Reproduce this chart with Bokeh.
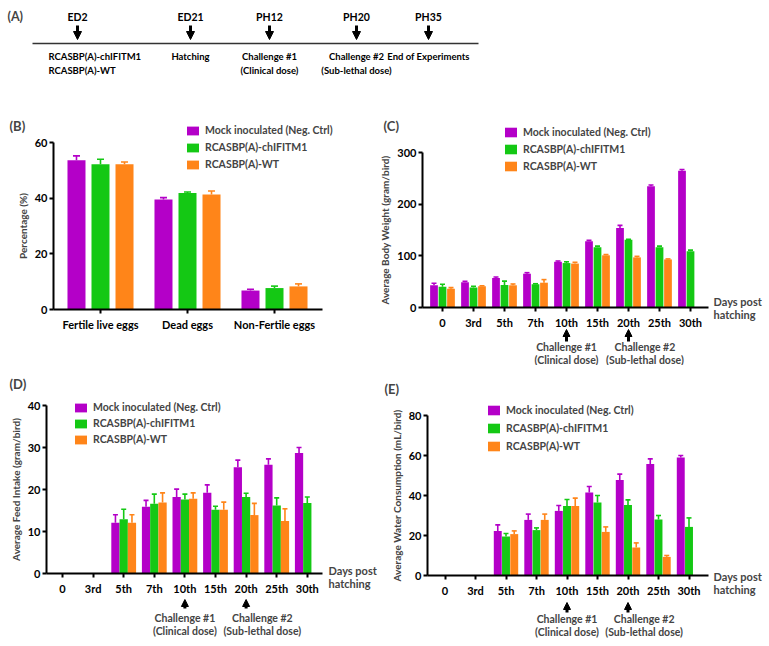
import numpy as np
from bokeh.plotting import figure
from bokeh.layouts import column, row
from bokeh.models import (Range1d, Legend, LegendItem, Label, Arrow, LinearAxis,
                          NormalHead, FixedTicker, ColumnDataSource)
from bokeh.transform import dodge
from bokeh.core.properties import value
from bokeh.embed import file_html
from bokeh.resources import INLINE

FONT = "Lato"
nan = np.nan

# ---------------- data ----------------
series_names = ["Mock inoculated (Neg. Ctrl)", "RCASBP(A)-chIFITM1", "RCASBP(A)-WT"]
colors = ["#B400C8", "#14C814", "#FF8519"]

# (A) timeline
timeline_events = ["ED2", "ED21", "PH12", "PH20", "PH35"]
timeline_pos = [77, 190, 269, 356, 428]
timeline_desc = ["RCASBP(A)-chIFITM1\nRCASBP(A)-WT", "Hatching",
                 "Challenge #1\n(Clinical dose)", "Challenge #2\n(Sub-lethal dose)",
                 "End of Experiments"]

# (B) egg outcome, percentage
egg_cats = ["Fertile live eggs", "Dead eggs", "Non-Fertile eggs"]
egg_mock = [53.6, 39.5, 6.8]
egg_mock_err = [1.6, 0.7, 0.5]
egg_ifitm = [52.2, 41.9, 7.7]
egg_ifitm_err = [1.8, 0.3, 0.7]
egg_wt = [52.2, 41.3, 8.3]
egg_wt_err = [0.8, 1.3, 0.9]

days = ["0", "3rd", "5th", "7th", "10th", "15th", "20th", "25th", "30th"]

# (C) body weight
bw_mock = [43, 48.7, 57, 65.4, 88.5, 128, 154, 234.6, 264.7]
bw_mock_err = [4, 2, 2, 2, 1.5, 2, 5, 2.5, 2.5]
bw_ifitm = [40, 38.5, 43.6, 45, 86, 116.7, 131, 116.7, 109]
bw_ifitm_err = [5, 2.5, 7.5, 1, 2.5, 2, 1, 2, 2]
bw_wt = [36.5, 41, 43, 48, 85, 101, 97, 93, nan]
bw_wt_err = [2, 1, 2.5, 6, 2.5, 1.5, 2, 1, nan]

# (D) feed intake
fi_mock = [nan, nan, 12.1, 15.9, 18.2, 19.2, 25.3, 25.9, 28.7]
fi_mock_err = [nan, nan, 1.9, 1.5, 1.9, 1.9, 1.7, 1.4, 1.3]
fi_ifitm = [nan, nan, 12.9, 16.6, 17.6, 15.2, 18.2, 16.2, 16.8]
fi_ifitm_err = [nan, nan, 2.4, 2.3, 1.3, 0.8, 0.9, 1.8, 1.4]
fi_wt = [nan, nan, 12.1, 16.9, 17.8, 15.2, 13.9, 12.5, nan]
fi_wt_err = [nan, nan, 1.9, 2.3, 1.4, 1.8, 2.8, 2.9, nan]

# (E) water consumption
wc_mock = [nan, nan, 22.3, 27.8, 32.3, 41.5, 47.8, 55.7, 59.0]
wc_mock_err = [nan, nan, 3.0, 2.9, 2.7, 3.0, 2.9, 2.6, 1.0]
wc_ifitm = [nan, nan, 19.5, 22.7, 34.7, 36.5, 35.2, 28.0, 24.3]
wc_ifitm_err = [nan, nan, 1.5, 1.1, 3.3, 3.5, 2.6, 2.0, 4.5]
wc_wt = [nan, nan, 20.7, 27.8, 34.7, 21.8, 14.0, 9.3, nan]
wc_wt_err = [nan, nan, 1.6, 2.9, 4.0, 2.5, 2.3, 0.7, nan]

challenges = [("10th", "Challenge #1\n(Clinical dose)", 0.0),
              ("20th", "Challenge #2\n(Sub-lethal dose)", 0.53)]

# ---------------- (A) timeline ----------------
pA = figure(width=768, height=110, x_range=Range1d(0, 768), y_range=Range1d(110, 0),
            x_axis_type=None, y_axis_type=None, min_border=0, toolbar_location=None,
            output_backend="svg", outline_line_color=None, title=None)
pA.grid.visible = False
srcA = ColumnDataSource(dict(x=timeline_pos, ev=timeline_events))
pA.segment(x0=32, y0=43, x1=478, y1=43, line_width=1.5, line_color="#333333")
pA.text(x="x", y=16, text="ev", source=srcA, text_align="center", text_baseline="middle",
        text_font=value(FONT), text_font_style="bold", text_font_size="10.5px")
for xv in timeline_pos:
    pA.add_layout(Arrow(x_start=xv, y_start=25, x_end=xv, y_end=39, line_width=3,
                        line_color="black",
                        end=NormalHead(size=8, fill_color="black", line_color="black")))
srcA1 = ColumnDataSource(dict(x=[timeline_pos[0] - 29], desc=[timeline_desc[0]]))
srcA2 = ColumnDataSource(dict(x=timeline_pos[1:], desc=timeline_desc[1:]))
for s, al in ((srcA1, "left"), (srcA2, "center")):
    pA.text(x="x", y=50, text="desc", source=s, text_align=al, text_baseline="top",
            text_font=value(FONT), text_font_style="bold", text_font_size="9.5px",
            text_line_height=1.3)
pA.add_layout(Label(x=7, y=16, text="(A)", text_baseline="middle", text_font=FONT,
                    text_font_style="bold", text_font_size="12.5px"))


# ---------------- bar panels ----------------
def bar_panel(cats, vals, errs, *, fx, fy, W, H, c0, s, y0, y1, ymax, yticks, ax_x,
              ax_end, ylabel, off, bwid, cap, leg_xy, leg_spacing, leg_h, tag, tag_xy,
              days_xy=None, chall=None, tick_font="11px"):
    ppy = (y0 - y1) / ymax

    def dx(px):
        return (px - c0) / s

    def dy(py):
        return (y0 - py) / ppy

    p = figure(width=W, height=H, x_range=Range1d(dx(fx), dx(fx + W)),
               y_range=Range1d(dy(fy + H), dy(fy)), x_axis_type=None, y_axis_type=None,
               min_border=0, toolbar_location=None, output_backend="svg",
               outline_line_color=None, title=None)
    p.grid.visible = False

    xpos = list(range(len(cats)))
    data = dict(x=xpos)
    for k in range(3):
        v = np.array(vals[k], dtype=float)
        e = np.array(errs[k], dtype=float)
        data[f"v{k}"] = v
        data[f"t{k}"] = v + e
    src = ColumnDataSource(data)
    offsets = [-off, 0.0, off]
    renderers = []
    for k in range(3):
        xs = dodge("x", offsets[k])
        r = p.vbar(x=xs, top=f"v{k}", width=bwid, source=src, fill_color=colors[k],
                   line_color=None)
        p.segment(x0=xs, y0=f"v{k}", x1=xs, y1=f"t{k}", source=src,
                  line_color=colors[k], line_width=1.6)
        p.scatter(x=xs, y=f"t{k}", marker="dash", size=cap, source=src,
                  line_color=colors[k], line_width=1.6)
        renderers.append(r)

    xaxis = LinearAxis(fixed_location=0, bounds=(dx(ax_x), dx(ax_end)),
                       ticker=FixedTicker(ticks=xpos),
                       major_label_overrides={i: c for i, c in enumerate(cats)})
    yaxis = LinearAxis(fixed_location=dx(ax_x), bounds=(0, ymax),
                       ticker=FixedTicker(ticks=yticks), axis_label=ylabel)
    for ax in (xaxis, yaxis):
        ax.axis_line_width = 2
        ax.major_tick_line_width = 2
        ax.major_tick_in = 0
        ax.major_tick_out = 4
        ax.minor_tick_line_color = None
        ax.major_label_text_font = FONT
        ax.major_label_text_font_style = "bold"
        ax.major_label_text_font_size = tick_font
        ax.major_label_text_color = "black"
    xaxis.major_label_standoff = 4
    yaxis.major_label_standoff = 2
    yaxis.axis_label_text_font = FONT
    yaxis.axis_label_text_font_style = "bold"
    yaxis.axis_label_text_font_size = "10px"
    yaxis.axis_label_standoff = 3
    p.add_layout(xaxis, "below")
    p.add_layout(yaxis, "left")

    legend = Legend(items=[LegendItem(label=series_names[k], renderers=[renderers[k]])
                           for k in range(3)],
                    location=(leg_xy[0] - fx, fy + H - leg_xy[1]), orientation="vertical",
                    glyph_width=15, glyph_height=leg_h, label_height=leg_h,
                    spacing=leg_spacing, padding=0, margin=0, border_line_color=None,
                    background_fill_alpha=0, label_standoff=5, label_text_font=FONT,
                    label_text_font_style="bold", label_text_font_size="10.5px")
    p.add_layout(legend)

    p.add_layout(Label(x=dx(tag_xy[0]), y=dy(tag_xy[1]), text=tag, text_baseline="middle",
                       text_font=FONT, text_font_style="bold", text_font_size="13px"))
    if days_xy is not None:
        p.add_layout(Label(x=dx(days_xy[0]), y=dy(days_xy[1]), text="Days post\nhatching",
                           text_baseline="top", text_font=FONT, text_font_style="bold",
                           text_font_size="11px", text_line_height=1.05))
    if chall is not None:
        a_top, a_bot, t_top = chall
        for cat, txt, shift in challenges:
            xc = cats.index(cat)
            p.add_layout(Arrow(x_start=xc, y_start=dy(a_bot), x_end=xc, y_end=dy(a_top),
                               line_width=3, line_color="black",
                               end=NormalHead(size=7, fill_color="black",
                                              line_color="black")))
            p.add_layout(Label(x=xc + shift, y=dy(t_top), text=txt, text_align="center",
                               text_baseline="top", text_font=FONT,
                               text_font_style="bold", text_font_size="10.5px",
                               text_line_height=1.15))
    return p


pB = bar_panel(egg_cats, [egg_mock, egg_ifitm, egg_wt],
               [egg_mock_err, egg_ifitm_err, egg_wt_err],
               fx=0, fy=110, W=376, H=255, c0=100, s=87, y0=309, y1=142, ymax=60,
               yticks=[0, 20, 40, 60], ax_x=53, ax_end=322, ylabel="Percentage (%)",
               off=0.276, bwid=0.207, cap=7, leg_xy=(185, 170), leg_spacing=5, leg_h=11,
               tag="(B)", tag_xy=(9, 125), tick_font="11px")

pC = bar_panel(days, [bw_mock, bw_ifitm, bw_wt], [bw_mock_err, bw_ifitm_err, bw_wt_err],
               fx=376, fy=110, W=392, H=255, c0=442, s=31, y0=307, y1=152, ymax=300,
               yticks=[0, 100, 200, 300], ax_x=422, ax_end=708,
               ylabel="Average Body Weight (gram/bird)",
               off=0.274, bwid=0.25, cap=5, leg_xy=(503, 172), leg_spacing=5, leg_h=12,
               tag="(C)", tag_xy=(383, 125), days_xy=(713, 294),
               chall=(329, 341, 340))

pD = bar_panel(days, [fi_mock, fi_ifitm, fi_wt], [fi_mock_err, fi_ifitm_err, fi_wt_err],
               fx=0, fy=365, W=383, H=280, c0=62, s=30.6, y0=573, y1=405, ymax=40,
               yticks=[0, 10, 20, 30, 40], ax_x=46, ax_end=322,
               ylabel="Average Feed Intake (gram/bird)",
               off=0.27, bwid=0.27, cap=5, leg_xy=(73, 445), leg_spacing=4, leg_h=11,
               tag="(D)", tag_xy=(9, 383), days_xy=(328, 563),
               chall=(599, 608, 611))

pE = bar_panel(days, [wc_mock, wc_ifitm, wc_wt], [wc_mock_err, wc_ifitm_err, wc_wt_err],
               fx=383, fy=365, W=385, H=280, c0=444.5, s=30.5, y0=575, y1=415, ymax=80,
               yticks=[0, 20, 40, 60, 80], ax_x=427, ax_end=708,
               ylabel="Average Water Consumption (mL/bird)",
               off=0.27, bwid=0.26, cap=5, leg_xy=(486, 452), leg_spacing=6, leg_h=12,
               tag="(E)", tag_xy=(384, 388), days_xy=(713, 569),
               chall=(602, 612, 612))

layout = column(pA, row(pB, pC), row(pD, pE))
open("out.html", "w").write(file_html(layout, INLINE))
